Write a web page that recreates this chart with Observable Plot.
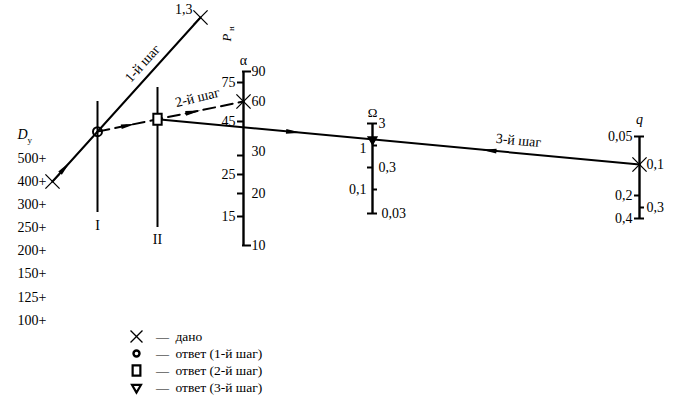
<!DOCTYPE html>
<html><head><meta charset="utf-8">
<script src="https://cdn.jsdelivr.net/npm/d3@7"></script>
<script src="https://cdn.jsdelivr.net/npm/@observablehq/plot@0.6"></script>
<style>body{margin:0;background:#fff}</style>
</head><body><div id="chart"></div>
<script>
// ---------- nomogram scales: graduation labels and their reading along each scale ----------
const dyLabels   = ["500", "400", "300", "250", "200", "150", "125", "100"];
const dyMarks    = [158, 181, 204, 227, 250, 273, 297, 320];
const alphaLabels = ["90", "75", "60", "45", "30", "25", "20", "15", "10"];
const alphaMarks  = [71, 82, 101, 121, 155, 174, 193, 216, 245];
const alphaSide   = ["R", "L", "R", "L", "R", "L", "R", "L", "R"];
const omegaLabels = ["3", "1", "0,3", "0,1", "0,03"];
const omegaMarks  = [123, 145, 167, 189, 213];
const omegaSide   = ["R", "L", "R", "L", "R"];
const qLabels = ["0,05", "0,1", "0,2", "0,3", "0,4"];
const qMarks  = [136, 164, 195, 207, 218];
const qSide   = ["L", "R", "L", "R", "L"];

// given values
const givenDy = "400", givenPn = "1,3", givenAlpha = "60", givenQ = "0,1";
const stepNames = ["1-й шаг", "2-й шаг", "3-й шаг"];
const legendLabels = ["дано", "ответ (1-й шаг)", "ответ (2-й шаг)", "ответ (3-й шаг)"];

// ---------- layout of the nomogram frame ----------
const X = {dy: 52, I: 97, II: 157, alpha: 243, omega: 372, q: 639};
const pnPoint = {x: 200, y: 17};           // position of Pн = 1,3
const refI = [101, 212], refII = [87, 227];
const pos = (labels, marks, v) => marks[labels.indexOf(v)];

const A = {x: X.dy, y: pos(dyLabels, dyMarks, givenDy)};
const B = pnPoint;
const C = {x: X.alpha, y: pos(alphaLabels, alphaMarks, givenAlpha)};
const Q = {x: X.q, y: pos(qLabels, qMarks, givenQ)};
const at = (p, r, x) => ({x, y: p.y + (r.y - p.y) * (x - p.x) / (r.x - p.x)});
const lerp = (p, r, t) => ({x: p.x + (r.x - p.x) * t, y: p.y + (r.y - p.y) * t});
const ang = (p, r) => Math.atan2(r.x - p.x, -(r.y - p.y)) * 180 / Math.PI;
const P1 = at(A, B, X.I);        // answer step 1
const P2 = at(P1, C, X.II);      // answer step 2
const P3 = at(P2, Q, X.omega);   // answer step 3

const arrowSym = {draw(ctx, size) { const s = Math.sqrt(size);
  ctx.moveTo(0, -s * 1.1); ctx.lineTo(s * 0.3, s * 0.8); ctx.lineTo(-s * 0.3, s * 0.8); ctx.closePath(); }};
const tallRect = {draw(ctx, size) { const s = Math.sqrt(size);
  ctx.rect(-s * 0.42, -s * 0.55, s * 0.84, s * 1.1); }};

const arrows = [
  {...lerp(A, B, 0.08), a: ang(A, B)},
  {...lerp(P1, P2, 0.5), a: ang(P1, P2)},
  {...lerp(P2, C, 0.4), a: ang(P2, C)},
  {...lerp(P2, Q, 0.28), a: ang(P2, Q)},
  {...lerp(P2, Q, 0.69), a: ang(Q, P2)}
];

// axis tick data
function scaleTicks(x, labels, marks, sides, tickMode) {
  return labels.map((l, i) => {
    const end = i === 0 || i === labels.length - 1;
    let x1, x2;
    if (end) { if (tickMode === "alpha") { x1 = x - 1; x2 = x + 8; } else { x1 = x - 5; x2 = x + 5; } }
    else if (tickMode === "alpha") { x1 = x - 6; x2 = x; }
    else if (tickMode === "omega") { if (sides[i] === "L") { x1 = x; x2 = x + 5; } else { x1 = x - 5; x2 = x; } }
    else { if (sides[i] === "L") { x1 = x - 5; x2 = x; } else { x1 = x; x2 = x + 5; } }
    return {x1, x2, y: marks[i], label: l};
  });
}
const aT = scaleTicks(X.alpha, alphaLabels, alphaMarks, alphaSide, "alpha").filter(d => d.label !== givenAlpha);
const oT = scaleTicks(X.omega, omegaLabels, omegaMarks, omegaSide, "omega");
const qT = scaleTicks(X.q, qLabels, qMarks, qSide, "q").filter(d => d.label !== givenQ);
const labelsOf = (x, labels, marks, sides, gap) => labels.map((l, i) => ({x: sides[i] === "L" ? x - gap : x + gap, y: marks[i], label: l, side: sides[i]}));
const sideText = (data, opts) => [
  Plot.text(data.filter(d => d.side === "L"), {x: "x", y: "y", text: "label", textAnchor: "end", fontSize: 14, ...opts}),
  Plot.text(data.filter(d => d.side === "R"), {x: "x", y: "y", text: "label", textAnchor: "start", fontSize: 14, ...opts})
];
const aLab = labelsOf(X.alpha, alphaLabels, alphaMarks, alphaSide, 8);
aLab.forEach(d => { if (d.label === "30") d.y -= 4; });
const oLab = labelsOf(X.omega, omegaLabels, omegaMarks, omegaSide, 6);
oLab.forEach(d => { if (d.label === "1") d.y += 3; if (d.label === "0,03") d.x += 3; });
const qLab = labelsOf(X.q, qLabels, qMarks, qSide, 7);

const legend = legendLabels.map((l, i) => ({x: 136, y: 336 + i * 17, label: l}));
const legendSyms = [
  {sym: "times", r: 5.5, fill: "none", sw: 1.3},
  {sym: "circle", r: 3, fill: "none", sw: 2.4},
  {sym: tallRect, r: 5.2, fill: "none", sw: 2.2},
  {sym: "triangle", r: 3.3, fill: "white", sw: 2.2, rot: 180}
];

const chart = Plot.plot({
  width: 675, height: 399, margin: 0,
  x: {domain: [0, 675], range: [0, 675], axis: null},
  y: {domain: [0, 399], range: [0, 399], axis: null},
  style: {fontFamily: "'Liberation Serif', serif", fontSize: "13px", background: "white", color: "black"},
  marks: [
    // Dy scale
    Plot.text(dyLabels, {x: X.dy - 6, y: (d, i) => dyMarks[i], text: d => d + "+", textAnchor: "end", fontSize: 14}),
    Plot.text(["D"], {x: 17, y: 134, text: d => d, fontStyle: "italic", fontSize: 14, textAnchor: "start"}),
    Plot.text(["у"], {x: 27, y: 140, text: d => d, fontSize: 9, textAnchor: "start"}),
    // reference lines I and II
    Plot.ruleX([X.I], {y1: refI[0], y2: refI[1], strokeWidth: 2}),
    Plot.ruleX([X.II], {y1: refII[0], y2: refII[1], strokeWidth: 2}),
    Plot.text(["I"], {x: X.I, y: 225, text: d => d, fontSize: 14}),
    Plot.text(["II"], {x: X.II, y: 239, text: d => d, fontSize: 14}),
    // alpha scale
    Plot.ruleX([X.alpha], {y1: alphaMarks[0], y2: alphaMarks[alphaMarks.length - 1], strokeWidth: 2.4}),
    Plot.ruleY(aT, {x1: "x1", x2: "x2", y: "y", strokeWidth: 2}),
    ...sideText(aLab),
    Plot.text(["α"], {x: X.alpha, y: 60, text: d => d, fontSize: 14}),
    Plot.text(["P"], {x: 226, y: 37, text: d => d, fontStyle: "italic", fontSize: 13, rotate: -90}),
    Plot.text(["н"], {x: 231, y: 28, text: d => d, fontSize: 9, rotate: -90}),
    // omega scale
    Plot.ruleX([X.omega], {y1: omegaMarks[0], y2: omegaMarks[omegaMarks.length - 1], strokeWidth: 2.4}),
    Plot.ruleY(oT, {x1: "x1", x2: "x2", y: "y", strokeWidth: 2}),
    ...sideText(oLab),
    Plot.text(["Ω"], {x: X.omega, y: 112, text: d => d, fontSize: 13}),
    // q scale
    Plot.ruleX([X.q], {y1: qMarks[0], y2: qMarks[qMarks.length - 1], strokeWidth: 2.4}),
    Plot.ruleY(qT, {x1: "x1", x2: "x2", y: "y", strokeWidth: 2}),
    ...sideText(qLab),
    Plot.text(["q"], {x: X.q, y: 119, text: d => d, fontStyle: "italic", fontSize: 14}),
    // step 1
    Plot.line([A, B], {x: "x", y: "y", strokeWidth: 2}),
    Plot.text([stepNames[0]], {x: 142, y: 63, text: d => d, rotate: ang(A, B) - 90, fontSize: 14}),
    Plot.text([givenPn], {x: B.x - 8, y: B.y - 8, text: d => d, textAnchor: "end", fontSize: 14}),
    // step 2
    Plot.line([P1, C], {x: "x", y: "y", strokeWidth: 2, strokeDasharray: "12,6"}),
    Plot.text([stepNames[1]], {x: 197, y: 97, text: d => d, rotate: ang(P1, C) - 90 - 2, fontSize: 14}),
    // step 3
    Plot.line([P2, Q], {x: "x", y: "y", strokeWidth: 2}),
    Plot.text([stepNames[2]], {x: 518, y: 140, text: d => d, rotate: ang(P2, Q) - 90, fontSize: 14}),
    // arrows
    Plot.dot(arrows, {x: "x", y: "y", rotate: "a", symbol: arrowSym, r: 4.5, fill: "black", stroke: "none"}),
    // given points and answers
    Plot.dot([A, B, C, Q], {x: "x", y: "y", symbol: "times", r: 6.5, stroke: "black", strokeWidth: 1.3}),
    Plot.dot([P1], {x: "x", y: "y", symbol: "circle", r: 4.5, stroke: "black", strokeWidth: 2, fill: "none"}),
    Plot.dot([P2], {x: "x", y: "y", symbol: tallRect, r: 5.6, stroke: "black", strokeWidth: 2, fill: "white"}),
    Plot.dot([P3], {x: "x", y: "y", symbol: "triangle", rotate: 180, r: 3.2, fill: "black", stroke: "black"}),
    // legend
    ...legendSyms.map((s, i) => Plot.dot([legend[i]], {x: "x", y: "y", symbol: s.sym, r: s.r, stroke: "black", strokeWidth: s.sw, fill: s.fill, rotate: s.rot || 0})),
    Plot.text(legend, {x: d => d.x + 26, y: "y", text: () => "—", fontSize: 13}),
    Plot.text(legend, {x: d => d.x + 39, y: "y", text: "label", textAnchor: "start", fontSize: 13.5})
  ]
});
document.getElementById("chart").append(chart);
</script></body></html>
